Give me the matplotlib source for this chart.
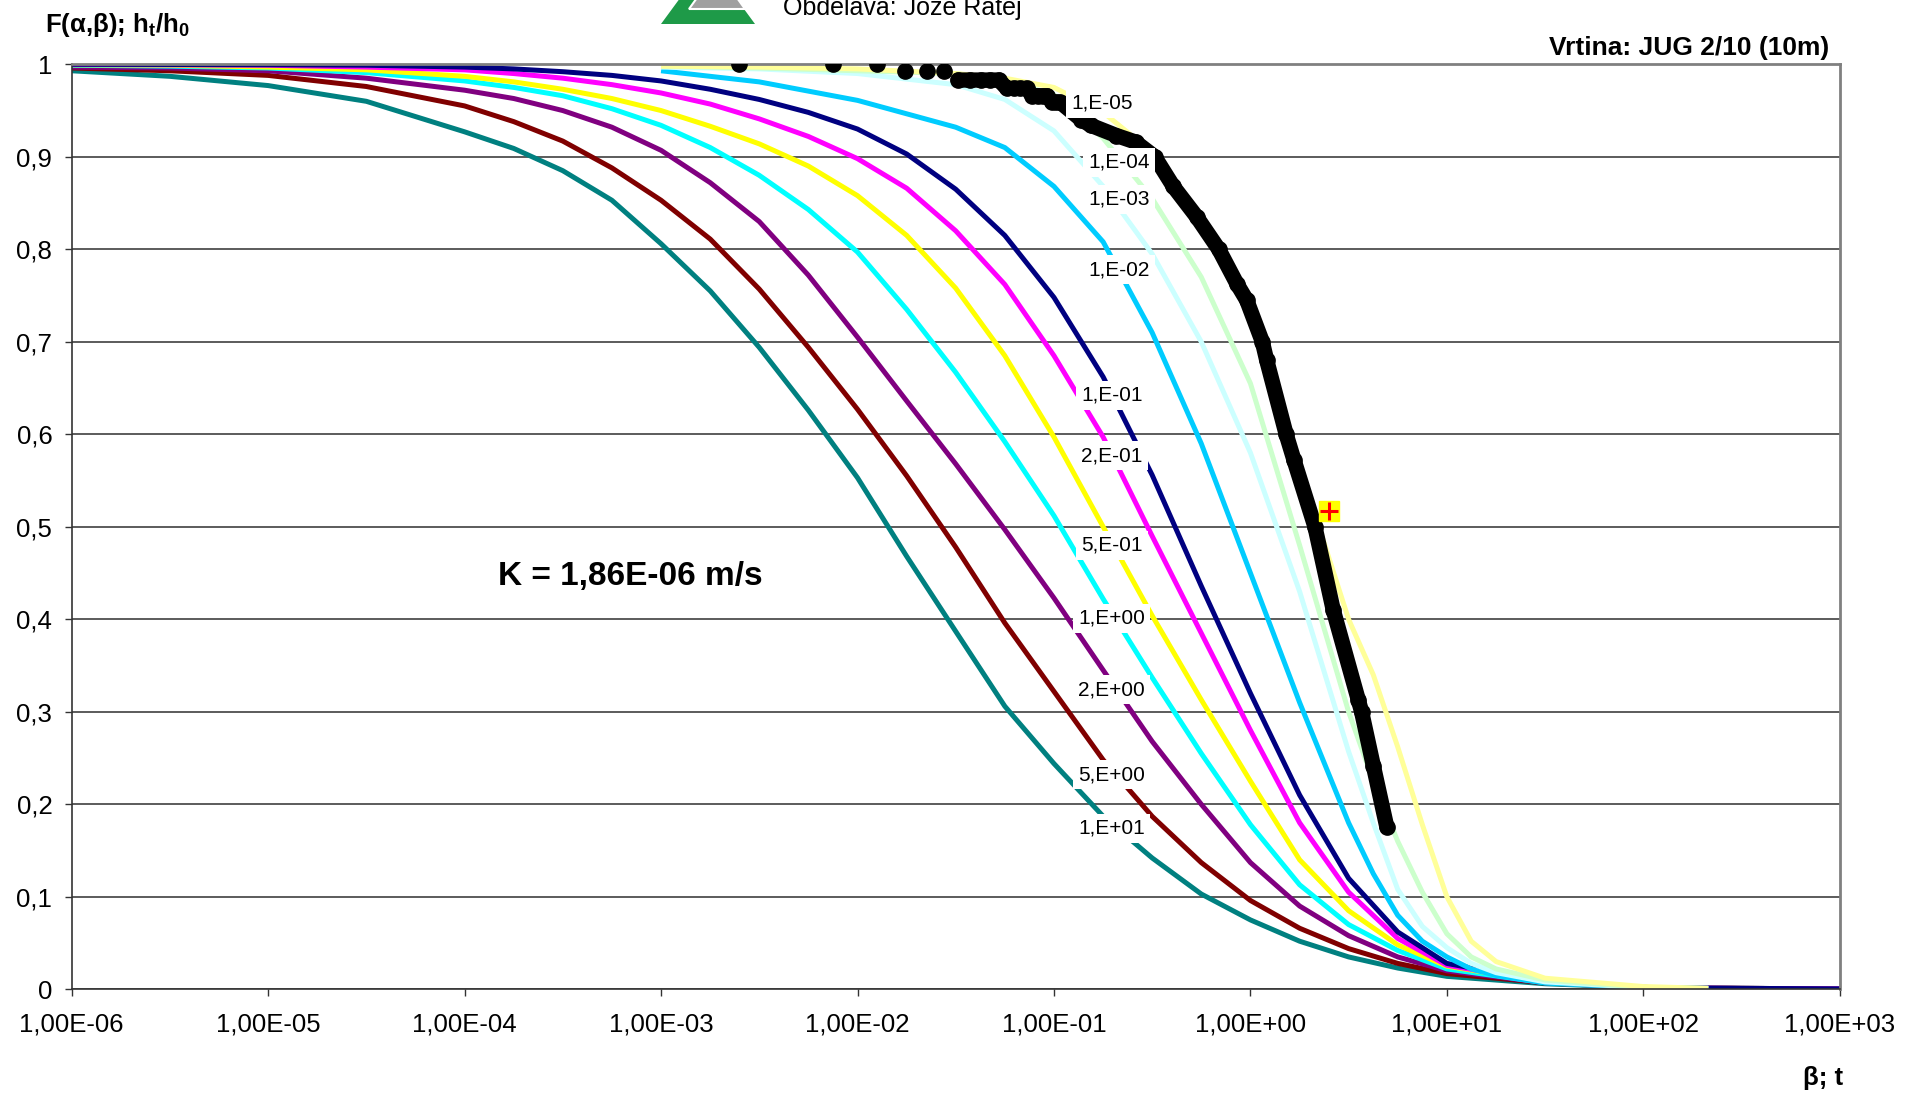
import matplotlib
matplotlib.use("Agg")
import matplotlib.pyplot as plt
from matplotlib.patches import Polygon

plt.rcParams["font.family"] = ["Liberation Sans", "DejaVu Sans"]
plt.rcParams["mathtext.fontset"] = "custom"
plt.rcParams["mathtext.rm"] = "Liberation Sans:bold"
plt.rcParams["mathtext.bf"] = "Liberation Sans:bold"

# Cooper-Bredehoeft-Papadopulos type curves F(alpha, beta)
# curves for alpha >= 0.1 are tabulated from 1e-6 to 1e3
beta_full = [1e-6, 3.16e-6, 1e-5, 3.16e-5, 1e-4, 1.78e-4, 3.16e-4, 5.62e-4, 1e-3, 1.78e-3,
             3.16e-3, 5.62e-3, 1e-2, 1.78e-2, 3.16e-2, 5.62e-2, 0.1, 0.178, 0.316, 0.562,
             1, 1.78, 3.16, 5.62, 10, 31.6, 100, 316, 1000]
F_10 = [0.993, 0.987, 0.977, 0.960, 0.927, 0.909, 0.885, 0.853, 0.806, 0.755,
        0.694, 0.626, 0.553, 0.468, 0.387, 0.306, 0.244, 0.187, 0.142, 0.103,
        0.075, 0.052, 0.035, 0.023, 0.014, 0.006, 0.002, 0.001, 0.0005]
F_5 = [0.996, 0.993, 0.988, 0.976, 0.955, 0.938, 0.917, 0.888, 0.853, 0.811,
       0.757, 0.694, 0.627, 0.555, 0.478, 0.396, 0.322, 0.248, 0.187, 0.137,
       0.096, 0.066, 0.044, 0.028, 0.017, 0.007, 0.002, 0.001, 0.0005]
F_2 = [0.997, 0.996, 0.993, 0.985, 0.972, 0.963, 0.950, 0.932, 0.907, 0.872,
       0.830, 0.772, 0.705, 0.636, 0.568, 0.497, 0.423, 0.345, 0.268, 0.200,
       0.137, 0.090, 0.058, 0.035, 0.020, 0.007, 0.002, 0.001, 0.0005]
F_1 = [0.999, 0.998, 0.996, 0.991, 0.982, 0.975, 0.966, 0.952, 0.934, 0.910,
       0.880, 0.843, 0.797, 0.735, 0.667, 0.592, 0.512, 0.422, 0.337, 0.255,
       0.178, 0.113, 0.070, 0.042, 0.022, 0.007, 0.002, 0.001, 0.0005]
F_05 = [0.9995, 0.999, 0.997, 0.994, 0.987, 0.981, 0.973, 0.963, 0.950, 0.933,
        0.914, 0.890, 0.858, 0.815, 0.758, 0.685, 0.597, 0.500, 0.404, 0.313,
        0.225, 0.140, 0.085, 0.048, 0.025, 0.008, 0.002, 0.001, 0.0005]
F_02 = [0.9998, 0.9995, 0.999, 0.997, 0.994, 0.990, 0.985, 0.978, 0.969, 0.957,
        0.941, 0.922, 0.898, 0.866, 0.820, 0.762, 0.685, 0.597, 0.490, 0.385,
        0.280, 0.180, 0.105, 0.055, 0.026, 0.008, 0.002, 0.001, 0.0005]
F_01 = [1.0, 0.9998, 0.9995, 0.999, 0.997, 0.995, 0.992, 0.988, 0.982, 0.973,
        0.962, 0.948, 0.930, 0.903, 0.865, 0.815, 0.748, 0.662, 0.556, 0.436,
        0.320, 0.210, 0.120, 0.062, 0.028, 0.008, 0.002, 0.001, 0.0005]

# curves for small alpha are tabulated from 1e-3 to about 2e2
beta_short = [1e-3, 3.16e-3, 1e-2, 3.16e-2, 5.62e-2, 0.1, 0.178, 0.316, 0.562, 1,
              1.78, 3.16, 4.22, 5.62, 7.5, 10, 13.3, 17.8, 31.6, 100, 214]
F_1e2 = [0.993, 0.981, 0.961, 0.932, 0.910, 0.868, 0.808, 0.710, 0.590, 0.450,
         0.310, 0.180, 0.125, 0.080, 0.052, 0.035, 0.022, 0.015, 0.007, 0.002, 0.001]
F_1e3 = [0.997, 0.995, 0.990, 0.978, 0.962, 0.928, 0.868, 0.795, 0.700, 0.580,
         0.430, 0.257, 0.180, 0.108, 0.068, 0.045, 0.028, 0.018, 0.008, 0.002, 0.001]
F_1e4 = [0.998, 0.996, 0.993, 0.990, 0.983, 0.967, 0.920, 0.855, 0.770, 0.655,
         0.480, 0.300, 0.225, 0.160, 0.105, 0.060, 0.035, 0.022, 0.010, 0.002, 0.001]
F_1e5 = [0.998, 0.997, 0.995, 0.990, 0.985, 0.975, 0.948, 0.905, 0.835, 0.730,
         0.565, 0.400, 0.340, 0.262, 0.178, 0.100, 0.052, 0.030, 0.012, 0.003, 0.001]

alpha_values = [10, 5, 2, 1, 0.5, 0.2, 0.1, 1e-2, 1e-3, 1e-4, 1e-5]
curve_betas = [beta_full] * 7 + [beta_short] * 4
curve_Fs = [F_10, F_5, F_2, F_1, F_05, F_02, F_01, F_1e2, F_1e3, F_1e4, F_1e5]
curve_colors = ["#008080", "#800000", "#800080", "#00FFFF", "#FFFF00", "#FF00FF",
                "#000080", "#00CCFF", "#CCFFFF", "#CCFFCC", "#FFFF99"]

# curve label anchors (beta, F)
label_beta = [0.197, 0.197, 0.197, 0.197, 0.197, 0.197, 0.197, 0.214, 0.214, 0.214, 0.176]
label_F = [0.174, 0.232, 0.324, 0.401, 0.480, 0.577, 0.642, 0.778, 0.854, 0.894, 0.958]

# measured head ratio h_t/h_0 against shifted time
obs_early_t = [0.0025, 0.0075, 0.0125, 0.0175, 0.0225, 0.0275]
obs_early_h = [1.0, 1.0, 1.0, 0.993, 0.993, 0.993]
obs_t = [0.0325, 0.0375, 0.0425, 0.0475, 0.0525, 0.0575, 0.0625, 0.0675, 0.0725,
         0.0775, 0.0825, 0.0875, 0.0925, 0.0975, 0.1025, 0.1075, 0.138, 0.154, 0.208,
         0.26, 0.326, 0.405, 0.533, 0.69, 0.852, 0.957, 1.15, 1.21, 1.52, 1.667, 2.13,
         2.64, 3.54, 3.68, 4.23, 4.94]
obs_h = [0.983, 0.983, 0.983, 0.983, 0.983, 0.974, 0.974, 0.974, 0.974,
         0.966, 0.966, 0.966, 0.966, 0.959, 0.959, 0.959, 0.94, 0.934, 0.923,
         0.916, 0.9, 0.868, 0.835, 0.8, 0.763, 0.745, 0.7, 0.68, 0.6, 0.572, 0.5,
         0.41, 0.313, 0.3, 0.241, 0.176]

match_beta = [2.51]
match_F = [0.517]

x_ticks = [1e-6, 1e-5, 1e-4, 1e-3, 1e-2, 1e-1, 1e0, 1e1, 1e2, 1e3]
y_ticks = [0, 0.1, 0.2, 0.3, 0.4, 0.5, 0.6, 0.7, 0.8, 0.9, 1.0]


def sci_comma(v, digits):
    m, e = f"{v:.{digits}E}".split("E")
    return f"{m.replace('.', ',')}E{int(e):+03d}"


def alpha_label(a):
    m, e = f"{a:.0E}".split("E")
    return f"{m},E{int(e):+03d}"


W, H = 1921, 1101
fig = plt.figure(figsize=(W / 100, H / 100), dpi=100)
ax = fig.add_axes([71.7 / W, 1 - 989.3 / H, (1839.8 - 71.7) / W, (989.3 - 64.3) / H])

for b, f, c in zip(curve_betas, curve_Fs, curve_colors):
    ax.plot(b, f, color=c, lw=3.6, solid_capstyle="butt", solid_joinstyle="round", zorder=2)

ax.plot(obs_t, obs_h, color="black", lw=11, solid_capstyle="round",
        solid_joinstyle="round", zorder=3)
ax.plot(obs_early_t + obs_t, obs_early_h + obs_h, "o", color="black", ms=11, zorder=3)

ax.plot(match_beta, match_F, "s", color="#FFFF00", ms=14, zorder=4)
ax.plot(match_beta, match_F, "+", color="#FF0000", ms=13, mew=2.2, zorder=4)

for a, lb, lf in zip(alpha_values, label_beta, label_F):
    ax.text(lb, lf, alpha_label(a), fontsize=15, ha="center", va="center", zorder=6,
            bbox=dict(boxstyle="square,pad=0.25", fc="white", ec="none"))

ax.text(7.0e-4, 0.446, "K = 1,86E-06 m/s", fontsize=24, fontweight="bold",
        ha="center", va="center")

ax.set_xscale("log")
ax.set_xlim(1e-6, 1e3)
ax.set_ylim(0, 1)
ax.set_xticks(x_ticks)
ax.set_xticklabels([sci_comma(v, 2) for v in x_ticks])
ax.minorticks_off()
ax.set_yticks(y_ticks)
ax.set_yticklabels(["0" if v == 0 else "1" if v == 1 else f"{v:.1f}".replace(".", ",")
                    for v in y_ticks])
ax.tick_params(axis="x", labelsize=18.5, length=5, width=1, pad=12, color="#333333")
ax.tick_params(axis="y", labelsize=18.5, length=5, width=1, pad=9, color="#333333")
ax.grid(axis="y", color="#404040", lw=1.2)
ax.set_axisbelow(True)
for side in ("top", "right"):
    ax.spines[side].set_color("#808080")
    ax.spines[side].set_linewidth(2)
for side in ("left", "bottom"):
    ax.spines[side].set_color("#333333")
    ax.spines[side].set_linewidth(1.2)

fig.text(45 / W, 1 - 25 / H, r"F(α,β); h$_\mathregular{t}$/h$_\mathregular{0}$",
         fontsize=18.5, fontweight="bold", ha="left", va="center")
fig.text(1829 / W, 1 - 47.5 / H, "Vrtina: JUG 2/10 (10m)", fontsize=19,
         fontweight="bold", ha="right", va="center")
fig.text(1823 / W, 1 - 1078 / H, "β; t", fontsize=18.5, fontweight="bold",
         ha="center", va="center")
fig.text(783 / W, 1 - 15 / H, "Obdelava: Jože Ratej", fontsize=18, ha="left",
         va="baseline")


# logo: green triangle with a grey inner triangle
def px(pts):
    return [(x / W, 1 - y / H) for x, y in pts]


fig.patches.append(Polygon(px([(661, 24), (755, 24), (708, -40)]), closed=True,
                           fc="#1E9A48", ec="none", transform=fig.transFigure))
fig.patches.append(Polygon(px([(689, 9), (745, 9), (717, -30)]), closed=True,
                           fc="#A0A0A0", ec="white", lw=1.5, transform=fig.transFigure))

fig.savefig("out.png", dpi=100)
